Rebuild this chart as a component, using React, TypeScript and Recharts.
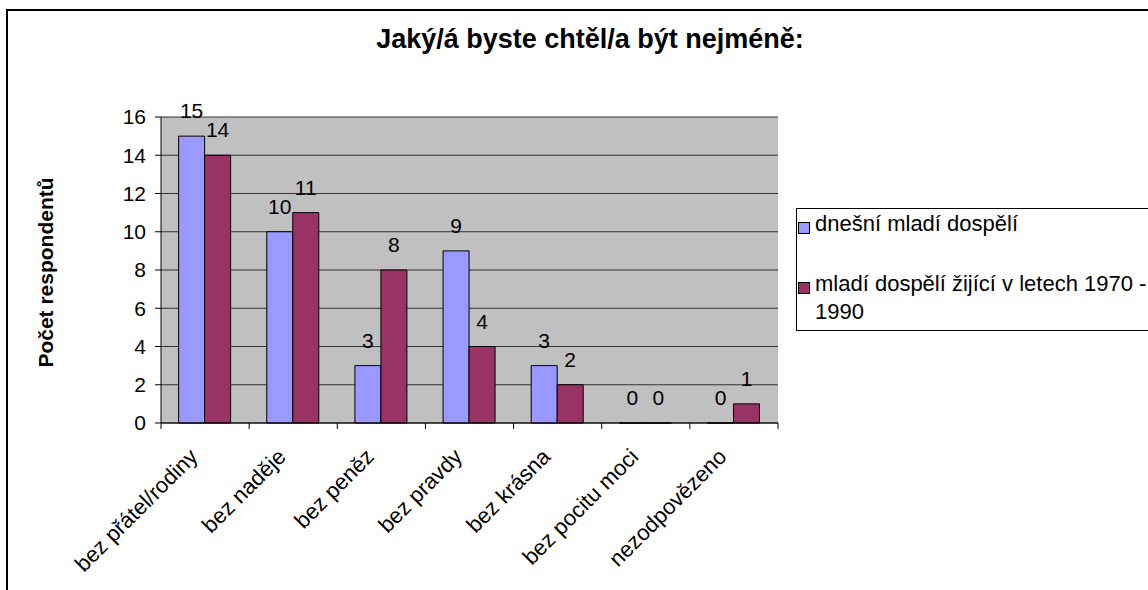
import { BarChart, Bar, XAxis, YAxis, CartesianGrid, LabelList, Legend } from "recharts";

const categories = [
  "bez přátel/rodiny",
  "bez naděje",
  "bez peněz",
  "bez pravdy",
  "bez krásna",
  "bez pocitu moci",
  "nezodpovězeno",
];
const dnesniMladi = [15, 10, 3, 9, 3, 0, 0];
const mladi19701990 = [14, 11, 8, 4, 2, 0, 1];
const seriesNames = ["dnešní mladí dospělí", "mladí dospělí žijící v letech 1970 - 1990"];
const yTicks = [0, 2, 4, 6, 8, 10, 12, 14, 16];

const BLUE = "#9999FF";
const PLUM = "#993366";
const FONT = '"Liberation Sans", Arial, sans-serif';

const W = 1148;
const H = 590;
// plot area edges, as in the reference
const PLOT_LEFT = 161;
const PLOT_TOP = 117;
const PLOT_RIGHT = 778;
const PLOT_BOTTOM = 423;
const BAND = (PLOT_RIGHT - PLOT_LEFT) / categories.length;

const data = categories.map((name, i) => ({
  name,
  now: dnesniMladi[i],
  past: mladi19701990[i],
}));

// zero-valued bars get a hair of height so their "0" label is still drawn
const keepZero = (value: any) => (Number(value) === 0 ? 0.01 : 0);

function CategoryTick(props: any) {
  const { x, y, payload, index } = props;
  const left = x - BAND / 2;
  const ax = x - 6;
  const ay = y + 35;
  return (
    <g>
      <line x1={left} y1={y} x2={left} y2={y + 6} stroke="#000" />
      {index === categories.length - 1 && (
        <line x1={x + BAND / 2} y1={y} x2={x + BAND / 2} y2={y + 6} stroke="#000" />
      )}
      <text
        x={ax}
        y={ay}
        textAnchor="end"
        transform={`rotate(-45 ${ax} ${ay})`}
        fontSize={22}
        fontFamily={FONT}
        fill="#000"
      >
        {payload.value}
      </text>
    </g>
  );
}

function ValueLabel(props: any) {
  const { x, y, width, height, value } = props;
  const top = Math.min(y, y + height);
  return (
    <text
      x={x + width / 2}
      y={top - 18}
      textAnchor="middle"
      fontSize={21}
      fontFamily={FONT}
      fill="#000"
    >
      {value}
    </text>
  );
}

function LegendBox() {
  const items = [
    { name: seriesNames[0], color: BLUE },
    { name: seriesNames[1], color: PLUM },
  ];
  return (
    <div
      style={{
        width: 420,
        height: 123,
        border: "1px solid #000",
        background: "#fff",
        fontFamily: FONT,
        fontSize: 22,
        lineHeight: "28px",
        color: "#000",
        paddingTop: 1,
        boxSizing: "border-box",
      }}
    >
      {items.map((it, i) => (
        <div key={it.name} style={{ display: "flex", marginTop: i === 0 ? 0 : 32 }}>
          <span
            style={{
              width: 10,
              height: 10,
              marginLeft: 1,
              marginTop: 12,
              marginRight: 5,
              border: "1px solid #000",
              background: it.color,
              flex: "none",
            }}
          />
          <span style={{ width: 350 }}>{it.name}</span>
        </div>
      ))}
    </div>
  );
}

export default function App() {
  return (
    <div style={{ position: "relative", width: W, height: H, overflow: "hidden", background: "#fff" }}>
      <style>{"body{margin:0}"}</style>
      <div
        style={{
          position: "absolute",
          left: 6,
          top: 9,
          width: W,
          height: H,
          borderLeft: "2px solid #000",
          borderTop: "2px solid #000",
        }}
      />
      <div
        style={{
          position: "absolute",
          left: 0,
          top: 26,
          width: 1180,
          textAlign: "center",
          fontFamily: FONT,
          fontWeight: "bold",
          fontSize: 27,
          lineHeight: "27px",
          color: "#000",
        }}
      >
        Jaký/á byste chtěl/a být nejméně:
      </div>
      <div
        style={{
          position: "absolute",
          left: 44.7 - 150,
          top: 272 - 10.5,
          width: 300,
          height: 21,
          textAlign: "center",
          fontFamily: FONT,
          fontWeight: "bold",
          fontSize: 21,
          lineHeight: "21px",
          color: "#000",
          transform: "rotate(-90deg)",
        }}
      >
        Počet respondentů
      </div>
      <div style={{ position: "absolute", left: 0, top: 0 }}>
        <BarChart
          width={W}
          height={H}
          data={data}
          margin={{ top: PLOT_TOP, right: W - PLOT_RIGHT, bottom: 0, left: 0 }}
          barCategoryGap="20%"
          barGap={0}
          style={{ fontFamily: FONT }}
        >
          <CartesianGrid vertical={false} stroke="#333" fill="#C0C0C0" fillOpacity={1} />
          <XAxis
            dataKey="name"
            height={H - PLOT_BOTTOM}
            interval={0}
            tickLine={false}
            tickSize={0}
            tickMargin={0}
            axisLine={{ stroke: "#000" }}
            tick={<CategoryTick />}
          />
          <YAxis
            width={PLOT_LEFT}
            domain={[0, 16]}
            ticks={yTicks}
            interval={0}
            tickSize={6}
            tickMargin={9}
            axisLine={{ stroke: "#000" }}
            tickLine={{ stroke: "#000" }}
            tick={{ fontSize: 21, fill: "#000", fontFamily: FONT }}
          />
          <YAxis
            yAxisId="frame"
            orientation="right"
            width={0}
            domain={[0, 16]}
            tick={false}
            tickLine={false}
            axisLine={{ stroke: "#808080" }}
          />
          <Legend
            layout="horizontal"
            verticalAlign="middle"
            align="center"
            wrapperStyle={{ left: 796, top: 208, width: 420, height: 123 }}
            content={() => <LegendBox />}
          />
          <Bar
            dataKey="now"
            name={seriesNames[0]}
            fill={BLUE}
            stroke="#000"
            strokeWidth={1}
            minPointSize={keepZero}
            isAnimationActive={false}
          >
            <LabelList dataKey="now" content={<ValueLabel />} />
          </Bar>
          <Bar
            dataKey="past"
            name={seriesNames[1]}
            fill={PLUM}
            stroke="#000"
            strokeWidth={1}
            minPointSize={keepZero}
            isAnimationActive={false}
          >
            <LabelList dataKey="past" content={<ValueLabel />} />
          </Bar>
        </BarChart>
      </div>
    </div>
  );
}
